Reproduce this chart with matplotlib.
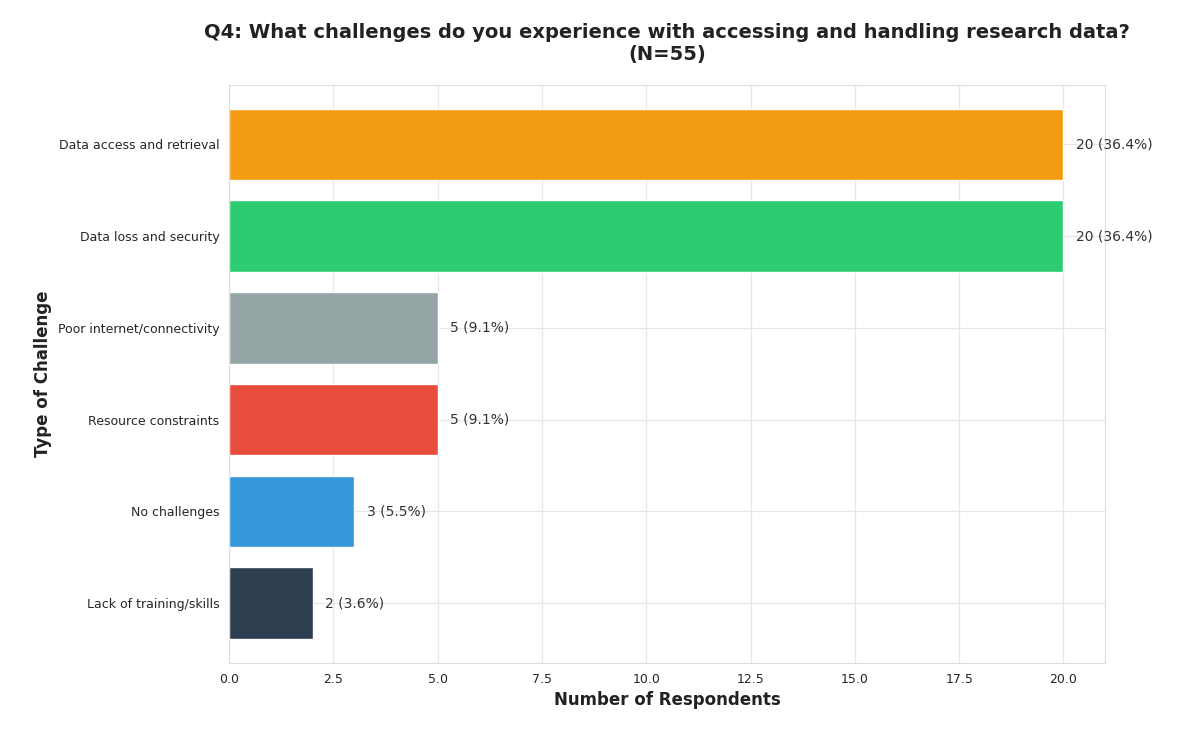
import matplotlib.pyplot as plt
import seaborn as sns

challenges = ["Data access and retrieval", "Data loss and security", "Poor internet/connectivity",
              "Resource constraints", "No challenges", "Lack of training/skills"]
counts = [20, 20, 5, 5, 3, 2]
colors = ["#f39c12", "#2ecc71", "#95a5a6", "#e74c3c", "#3498db", "#2c3e50"]
total = 55

sns.set_style("whitegrid")
plt.rcParams['font.family'] = ['DejaVu Sans']

fig = plt.figure(figsize=(12, 7.3), dpi=100)
ax = fig.add_axes([0.191, 0.092, 0.73, 0.792])

ypos = list(range(len(challenges)))[::-1]
ax.barh(ypos, counts, color=colors, height=0.78, zorder=2)
for y, c in zip(ypos, counts):
    ax.text(c + 0.3, y, f"{c} ({c / total * 100:.1f}%)", va="center", fontsize=10, color="#333333")

ax.set_yticks(ypos)
ax.set_yticklabels(challenges, fontsize=9)
ax.tick_params(axis="x", labelsize=9)
ax.set_xlim(0, 21)
ax.set_ylim(-0.65, 5.65)
ax.grid(True, color="#e6e6e6", linewidth=0.9)
for s in ax.spines.values():
    s.set_color("#dddddd")
ax.set_xlabel("Number of Respondents", fontsize=12, fontweight="bold", color="#222222")
ax.set_ylabel("Type of Challenge", fontsize=12, fontweight="bold", color="#222222")
ax.set_title("Q4: What challenges do you experience with accessing and handling research data?\n(N=55)",
             fontsize=14, fontweight="bold", color="#222222", pad=18)

fig.savefig("out.png", dpi=100)
